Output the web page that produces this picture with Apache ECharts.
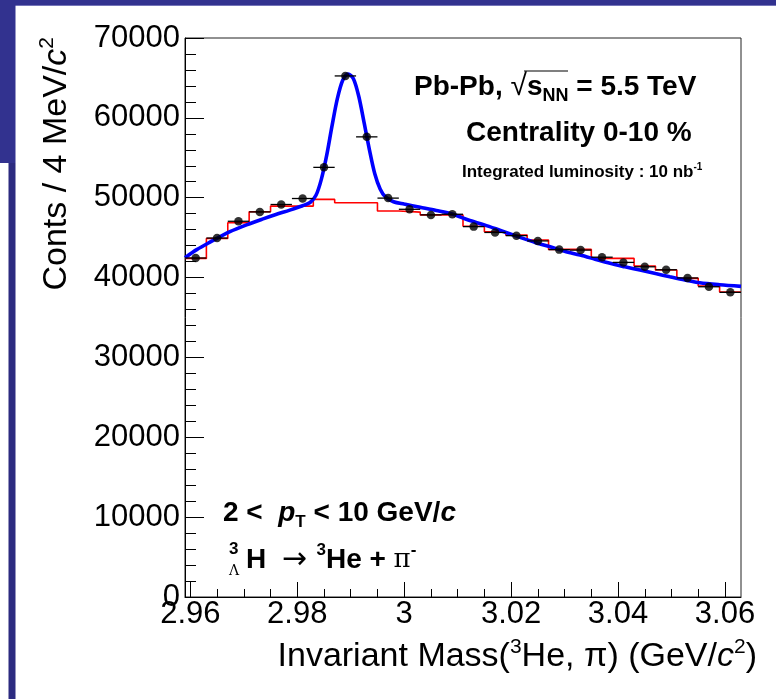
<!DOCTYPE html>
<html><head><meta charset="utf-8">
<script src="https://cdn.jsdelivr.net/npm/echarts@6/dist/echarts.min.js"></script>
<style>html,body{margin:0;padding:0;background:#fff}#c{width:776px;height:699px}</style>
</head><body><div id="c"></div>
<script>
// ---- data ----
const massCenters = [2.961, 2.965, 2.969, 2.973, 2.977, 2.981, 2.985, 2.989, 2.993, 2.997, 3.001, 3.005, 3.009,
  3.013, 3.017, 3.021, 3.025, 3.029, 3.033, 3.037, 3.041, 3.045, 3.049, 3.053, 3.057, 3.061];
const dataCounts = [42450, 44950, 47050, 48220, 49150, 49900, 53800, 65250, 57620, 49950, 48550, 47850, 47930,
  46380, 45650, 45250, 44590, 43500, 43440, 42550, 41900, 41350, 40980, 39950, 38850, 38150];
const binHalfWidth = 0.002;
const histEdges = [2.959, 2.963, 2.967, 2.971, 2.975, 2.979, 2.983, 2.987, 2.991, 2.995, 2.999, 3.003, 3.007,
  3.011, 3.015, 3.019, 3.023, 3.027, 3.031, 3.035, 3.039, 3.043, 3.047, 3.051, 3.055, 3.059, 3.063];
const bkgCounts = [42400, 44900, 46870, 48240, 48950, 48950, 49790, 49370, 49370, 48330, 48200, 47850, 47850,
  46420, 45740, 45320, 44700, 43530, 43530, 42400, 42400, 41440, 40940, 39900, 38940, 38190];
const fitMass = [2.9590, 2.9612, 2.9633, 2.9674, 2.9705, 2.9736, 2.9760, 2.9786, 2.9810, 2.9824, 2.9835, 2.9845,
  2.9855, 2.9865, 2.9875, 2.9885, 2.9895, 2.9905, 2.9915, 2.9925, 2.9935, 2.9945, 2.9955, 2.9965, 2.9980, 3.0000,
  3.0030, 3.0060, 3.0090, 3.0120, 3.0150, 3.0180, 3.0217, 3.0245, 3.0273, 3.0300, 3.0329, 3.0357, 3.0385, 3.0413,
  3.0441, 3.0470, 3.0497, 3.0525, 3.0553, 3.0590, 3.0630];
const fitCounts = [42500, 43500, 44300, 45750, 46600, 47350, 47900, 48450, 49000, 49400, 50300, 52300,
  55300, 59000, 62400, 64700, 65500, 64900, 62700, 59400, 56000, 53000, 51100, 50100, 49500, 49200,
  48800, 48400, 47950, 47200, 46600, 45900, 45030, 44400, 43860, 43300, 42820, 42300, 41780, 41350,
  40940, 40500, 40100, 39700, 39350, 39100, 38900];
const xMajorTicks = [2.96, 2.98, 3.00, 3.02, 3.04, 3.06];
const xMinorTicks = [2.965, 2.97, 2.975, 2.985, 2.99, 2.995, 3.005, 3.01, 3.015, 3.025, 3.03, 3.035,
  3.045, 3.05, 3.055];
const xRange = [2.959, 3.063];
const yRange = [0, 70000];
const yStep = 10000;

// ---- chart ----
const FONT = 'Liberation Sans';
const chart = echarts.init(document.getElementById('c'), null, {renderer: 'canvas'});
const histData = histEdges.map((e, i) => [e, bkgCounts[Math.min(i, bkgCounts.length - 1)]]);
const pointData = massCenters.map((m, i) => [m, dataCounts[i]]);
const fitData = fitMass.map((m, i) => [m, fitCounts[i]]);

const navy = '#32328f';
chart.setOption({
  animation: false,
  backgroundColor: '#fff',
  grid: {left: 185, top: 38, right: 35, bottom: 102, show: true, borderColor: '#222', borderWidth: 1, backgroundColor: 'transparent'},
  xAxis: [
    {type: 'value', min: xRange[0], max: xRange[1], position: 'bottom',
      axisLine: {show: true, onZero: false, lineStyle: {color: '#000', width: 1}},
      axisTick: {show: true, inside: true, length: 15, customValues: xMajorTicks, lineStyle: {color: '#000', width: 1}},
      axisLabel: {show: true, customValues: xMajorTicks, fontFamily: FONT, fontSize: 31, color: '#000', margin: 2,
        formatter: v => String(parseFloat(Number(v).toFixed(3)))},
      splitLine: {show: false}},
    {type: 'value', min: xRange[0], max: xRange[1], position: 'top', offset: -559,
      axisLine: {show: false, onZero: false},
      axisTick: {show: true, inside: false, length: 8, customValues: xMinorTicks, lineStyle: {color: '#000', width: 1}},
      axisLabel: {show: false}, splitLine: {show: false}}
  ],
  yAxis: {type: 'value', min: yRange[0], max: yRange[1], interval: yStep,
    axisLine: {show: true, onZero: false, lineStyle: {color: '#000', width: 1}},
    axisTick: {show: true, inside: true, length: 19, lineStyle: {color: '#000', width: 1}},
    minorTick: {show: true, splitNumber: 5, length: 11, lineStyle: {color: '#000', width: 1}},
    splitLine: {show: false}, minorSplitLine: {show: false},
    axisLabel: {fontFamily: FONT, fontSize: 31, color: '#000', margin: 5, formatter: v => String(v)}},
  series: [
    {type: 'line', step: 'end', data: histData, showSymbol: false, symbol: 'none',
      lineStyle: {color: '#ff0000', width: 1.6}, z: 2},
    {type: 'line', data: fitData, smooth: 0.3, showSymbol: false, symbol: 'none',
      lineStyle: {color: '#0000ff', width: 3.6}, z: 3},
    {type: 'custom', data: pointData, z: 4,
      renderItem: (params, api) => {
        const x = api.value(0), y = api.value(1);
        const a = api.coord([x - binHalfWidth, y]);
        const b = api.coord([x + binHalfWidth, y]);
        return {type: 'line', shape: {x1: a[0], y1: a[1], x2: b[0], y2: b[1]}, style: {stroke: '#000', lineWidth: 1.3}};
      }},
    {type: 'scatter', data: pointData, symbol: 'circle', symbolSize: 8.5, itemStyle: {color: '#000'}, z: 5}
  ],
  graphic: [
    {type: 'rect', shape: {x: 0, y: 0, width: 776, height: 5}, style: {fill: navy}, z: 0},
    {type: 'rect', shape: {x: 0, y: 5, width: 776, height: 1}, style: {fill: '#7474b8'}, z: 0},
    {type: 'rect', shape: {x: 0, y: 0, width: 15.5, height: 163}, style: {fill: navy}, z: 0},
    {type: 'rect', shape: {x: 8.5, y: 163, width: 7, height: 536}, style: {fill: '#2c2b80'}, z: 0},
    // y axis title
    {type: 'text', x: 57, y: 37, rotation: Math.PI / 2,
      style: {text: '{n|Conts / 4 MeV/}{i|c}{s|2}', align: 'right', verticalAlign: 'middle',
        rich: {n: {fontFamily: FONT, fontSize: 34, fill: '#000', lineHeight: 40, verticalAlign: 'middle'},
          i: {fontFamily: FONT, fontSize: 34, fontStyle: 'italic', fill: '#000', lineHeight: 40, verticalAlign: 'middle'},
          s: {fontFamily: FONT, fontSize: 21, fill: '#000', lineHeight: 22, verticalAlign: 'top'}}}},
    // x axis title
    {type: 'text', x: 757, y: 657,
      style: {text: '{n|Invariant Mass(}{s|3}{n|He, π) (GeV/}{i|c}{s|2}{n|)}', align: 'right', verticalAlign: 'middle',
        rich: {n: {fontFamily: FONT, fontSize: 34, fill: '#000', lineHeight: 40, verticalAlign: 'middle'},
          i: {fontFamily: FONT, fontSize: 34, fontStyle: 'italic', fill: '#000', lineHeight: 40, verticalAlign: 'middle'},
          s: {fontFamily: FONT, fontSize: 21, fill: '#000', lineHeight: 22, verticalAlign: 'top'}}}},
    // annotations
    {type: 'text', x: 414, y: 87, z: 10,
      style: {text: '{b|Pb-Pb, }{r|√}{b|s}{sub|NN}{b| = 5.5 TeV}', align: 'left', verticalAlign: 'middle',
        rich: {b: {fontFamily: FONT, fontSize: 28, fontWeight: 'bold', fill: '#000', lineHeight: 36, verticalAlign: 'middle'},
          r: {fontFamily: FONT, fontSize: 30, fill: '#000', lineHeight: 36, verticalAlign: 'middle'},
          sub: {fontFamily: FONT, fontSize: 18, fontWeight: 'bold', fill: '#000', lineHeight: 18, verticalAlign: 'bottom'}}}},
    {type: 'line', shape: {x1: 524, y1: 71, x2: 568, y2: 71}, style: {stroke: '#000', lineWidth: 1.2}, z: 10},
    {type: 'text', x: 466, y: 133, z: 10,
      style: {text: 'Centrality 0-10 %', fontFamily: FONT, fontSize: 28, fontWeight: 'bold', fill: '#000', align: 'left', verticalAlign: 'middle'}},
    {type: 'text', x: 462, y: 172, z: 10,
      style: {text: '{b|Integrated luminosity : 10 nb}{s|-1}', align: 'left', verticalAlign: 'middle',
        rich: {b: {fontFamily: FONT, fontSize: 17, fontWeight: 'bold', fill: '#000', lineHeight: 20, verticalAlign: 'middle'},
          s: {fontFamily: FONT, fontSize: 10, fontWeight: 'bold', fill: '#000', lineHeight: 10, verticalAlign: 'top'}}}},
    {type: 'text', x: 223, y: 513, z: 10,
      style: {text: '{b|2 <  }{i|p}{sub|T}{b| < 10 GeV/}{i|c}', align: 'left', verticalAlign: 'middle',
        rich: {b: {fontFamily: FONT, fontSize: 28, fontWeight: 'bold', fill: '#000', lineHeight: 36, verticalAlign: 'middle'},
          i: {fontFamily: FONT, fontSize: 28, fontWeight: 'bold', fontStyle: 'italic', fill: '#000', lineHeight: 36, verticalAlign: 'middle'},
          sub: {fontFamily: FONT, fontSize: 17, fontWeight: 'bold', fill: '#000', lineHeight: 17, verticalAlign: 'bottom'}}}},
    {type: 'text', x: 229, y: 549, z: 10,
      style: {text: '3', fontFamily: FONT, fontSize: 17, fontWeight: 'bold', fill: '#000', align: 'left', verticalAlign: 'middle'}},
    {type: 'text', x: 229, y: 571, z: 10,
      style: {text: 'Λ', fontFamily: 'DejaVu Serif', fontSize: 14, fill: '#000', align: 'left', verticalAlign: 'middle'}},
    {type: 'text', x: 246, y: 560, z: 10,
      style: {text: '{b|H  }{a|→ }{s|3}{b|He + }{p|π}{s|-}', align: 'left', verticalAlign: 'middle',
        rich: {b: {fontFamily: FONT, fontSize: 28, fontWeight: 'bold', fill: '#000', lineHeight: 36, verticalAlign: 'middle'},
          a: {fontFamily: 'DejaVu Sans', fontSize: 30, fontWeight: 'normal', fill: '#000', lineHeight: 36, verticalAlign: 'middle'},
          p: {fontFamily: 'DejaVu Serif', fontSize: 26, fill: '#000', lineHeight: 36, verticalAlign: 'middle'},
          s: {fontFamily: FONT, fontSize: 17, fontWeight: 'bold', fill: '#000', lineHeight: 17, verticalAlign: 'top'}}}}
  ]
});
</script></body></html>
